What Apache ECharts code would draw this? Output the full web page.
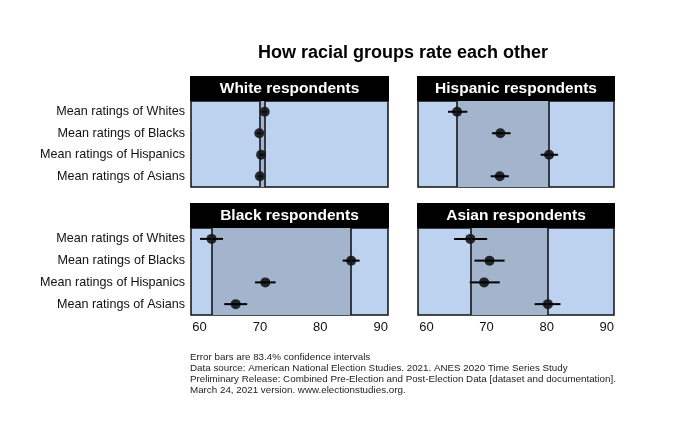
<!DOCTYPE html>
<html>
<head>
<meta charset="utf-8">
<script src="https://cdn.jsdelivr.net/npm/echarts@6/dist/echarts.min.js"></script>
<style>
  html, body { margin: 0; padding: 0; background: #fff; }
  #chart { width: 680px; height: 437px; }
</style>
</head>
<body>
<div id="chart"></div>
<script>
// 数据
const categories = ['Mean ratings of Whites', 'Mean ratings of Blacks', 'Mean ratings of Hispanics', 'Mean ratings of Asians'];
const panelTitles = ['White respondents', 'Hispanic respondents', 'Black respondents', 'Asian respondents'];
const inGroupIndex = [0, 2, 1, 3];
const tickValues = [60, 70, 80, 90];

const whiteMean = [70.8, 69.9, 70.2, 70.0];
const whiteLow  = [70.4, 69.5, 69.8, 69.6];
const whiteHigh = [71.2, 70.3, 70.6, 70.4];

const hispanicMean = [65.1, 72.3, 80.4, 72.2];
const hispanicLow  = [63.6, 70.9, 79.0, 70.7];
const hispanicHigh = [66.8, 74.0, 81.9, 73.7];

const blackMean = [62.0, 85.1, 70.9, 66.0];
const blackLow  = [60.1, 83.7, 69.2, 64.1];
const blackHigh = [63.9, 86.5, 72.6, 67.9];

const asianMean = [67.3, 70.5, 69.6, 80.2];
const asianLow  = [64.6, 68.0, 67.2, 78.0];
const asianHigh = [70.1, 73.0, 72.2, 82.3];

const panels = [
    {mean: whiteMean, low: whiteLow, high: whiteHigh},
    {mean: hispanicMean, low: hispanicLow, high: hispanicHigh},
    {mean: blackMean, low: blackLow, high: blackHigh},
    {mean: asianMean, low: asianLow, high: asianHigh}
];

// 布局
const gridPos = [
    {left: 191, top: 101, width: 197, height: 86},
    {left: 418, top: 101, width: 196, height: 86},
    {left: 191, top: 228, width: 197, height: 87},
    {left: 418, top: 228, width: 196, height: 87}
];
const headerH = 25;
const font = 'Liberation Sans, Arial, sans-serif';

const chart = echarts.init(document.getElementById('chart'));

const grids = [], xAxes = [], yAxes = [], series = [], graphics = [];

panels.forEach((p, i) => {
    const g = gridPos[i];
    grids.push({
        left: g.left, top: g.top, width: g.width, height: g.height,
        show: true, backgroundColor: '#bcd2ee', borderColor: '#111', borderWidth: 1.5
    });
    const bottomRow = i >= 2;
    xAxes.push({
        type: 'value', gridIndex: i, min: 58.6, max: 91.2,
        axisLine: {show: false}, axisTick: {show: false}, splitLine: {show: false},
        axisLabel: {
            show: bottomRow, customValues: tickValues, color: '#111',
            fontSize: 13, fontFamily: font, margin: 6
        }
    });
    const leftCol = i % 2 === 0;
    yAxes.push({
        type: 'category', gridIndex: i, data: categories, inverse: true,
        axisLine: {show: false}, axisTick: {show: false}, splitLine: {show: false},
        axisLabel: {show: leftCol, color: '#111', fontSize: 12.6, fontFamily: font, margin: 6}
    });

    const lo = Math.min(...p.mean);
    const own = p.mean[inGroupIndex[i]];

    // 误差线
    series.push({
        type: 'custom', xAxisIndex: i, yAxisIndex: i,
        data: categories.map((c, k) => [p.low[k], p.high[k], k]),
        renderItem: function(params, api) {
            const a = api.coord([api.value(0), api.value(2)]);
            const b = api.coord([api.value(1), api.value(2)]);
            return {type: 'line', shape: {x1: a[0], y1: a[1], x2: b[0], y2: b[1]},
                style: {stroke: '#000', lineWidth: 2}};
        },
        markArea: {
            silent: true,
            itemStyle: {color: '#a3b5cc'},
            data: [[{xAxis: lo}, {xAxis: own}]]
        },
        markLine: {
            silent: true, symbol: 'none', label: {show: false},
            lineStyle: {color: '#15161c', width: 1.6, type: 'solid'},
            data: [{xAxis: lo}, {xAxis: own}]
        },
        z: 3
    });
    // 均值点
    series.push({
        type: 'scatter', xAxisIndex: i, yAxisIndex: i,
        data: categories.map((c, k) => [p.mean[k], k]),
        symbolSize: 10, itemStyle: {color: '#000'}, z: 4
    });

    // 面板标题
    graphics.push({
        type: 'rect', left: g.left - 1, top: g.top - headerH,
        shape: {width: g.width + 2, height: headerH},
        style: {fill: '#000'}
    });
    graphics.push({
        type: 'text', x: g.left + g.width / 2, y: g.top - headerH / 2,
        style: {text: panelTitles[i], fill: '#fff', fontSize: 15.5, fontWeight: 'bold',
            fontFamily: font, align: 'center', verticalAlign: 'middle'}
    });
});

graphics.push({
    type: 'text', left: 190, top: 352,
    style: {
        text: 'Error bars are 83.4% confidence intervals\n' +
              'Data source: American National Election Studies. 2021. ANES 2020 Time Series Study\n' +
              'Preliminary Release: Combined Pre-Election and Post-Election Data [dataset and documentation].\n' +
              'March 24, 2021 version. www.electionstudies.org.',
        fill: '#222', fontSize: 9.8, lineHeight: 10.8, fontFamily: font
    }
});

const option = {
    animation: false,
    backgroundColor: '#fff',
    title: {
        text: 'How racial groups rate each other',
        left: 398, top: 39, textAlign: 'center',
        textStyle: {fontSize: 18, fontWeight: 'bold', color: '#000', fontFamily: font}
    },
    grid: grids,
    xAxis: xAxes,
    yAxis: yAxes,
    series: series,
    graphic: graphics
};

chart.setOption(option);
</script>
</body>
</html>
